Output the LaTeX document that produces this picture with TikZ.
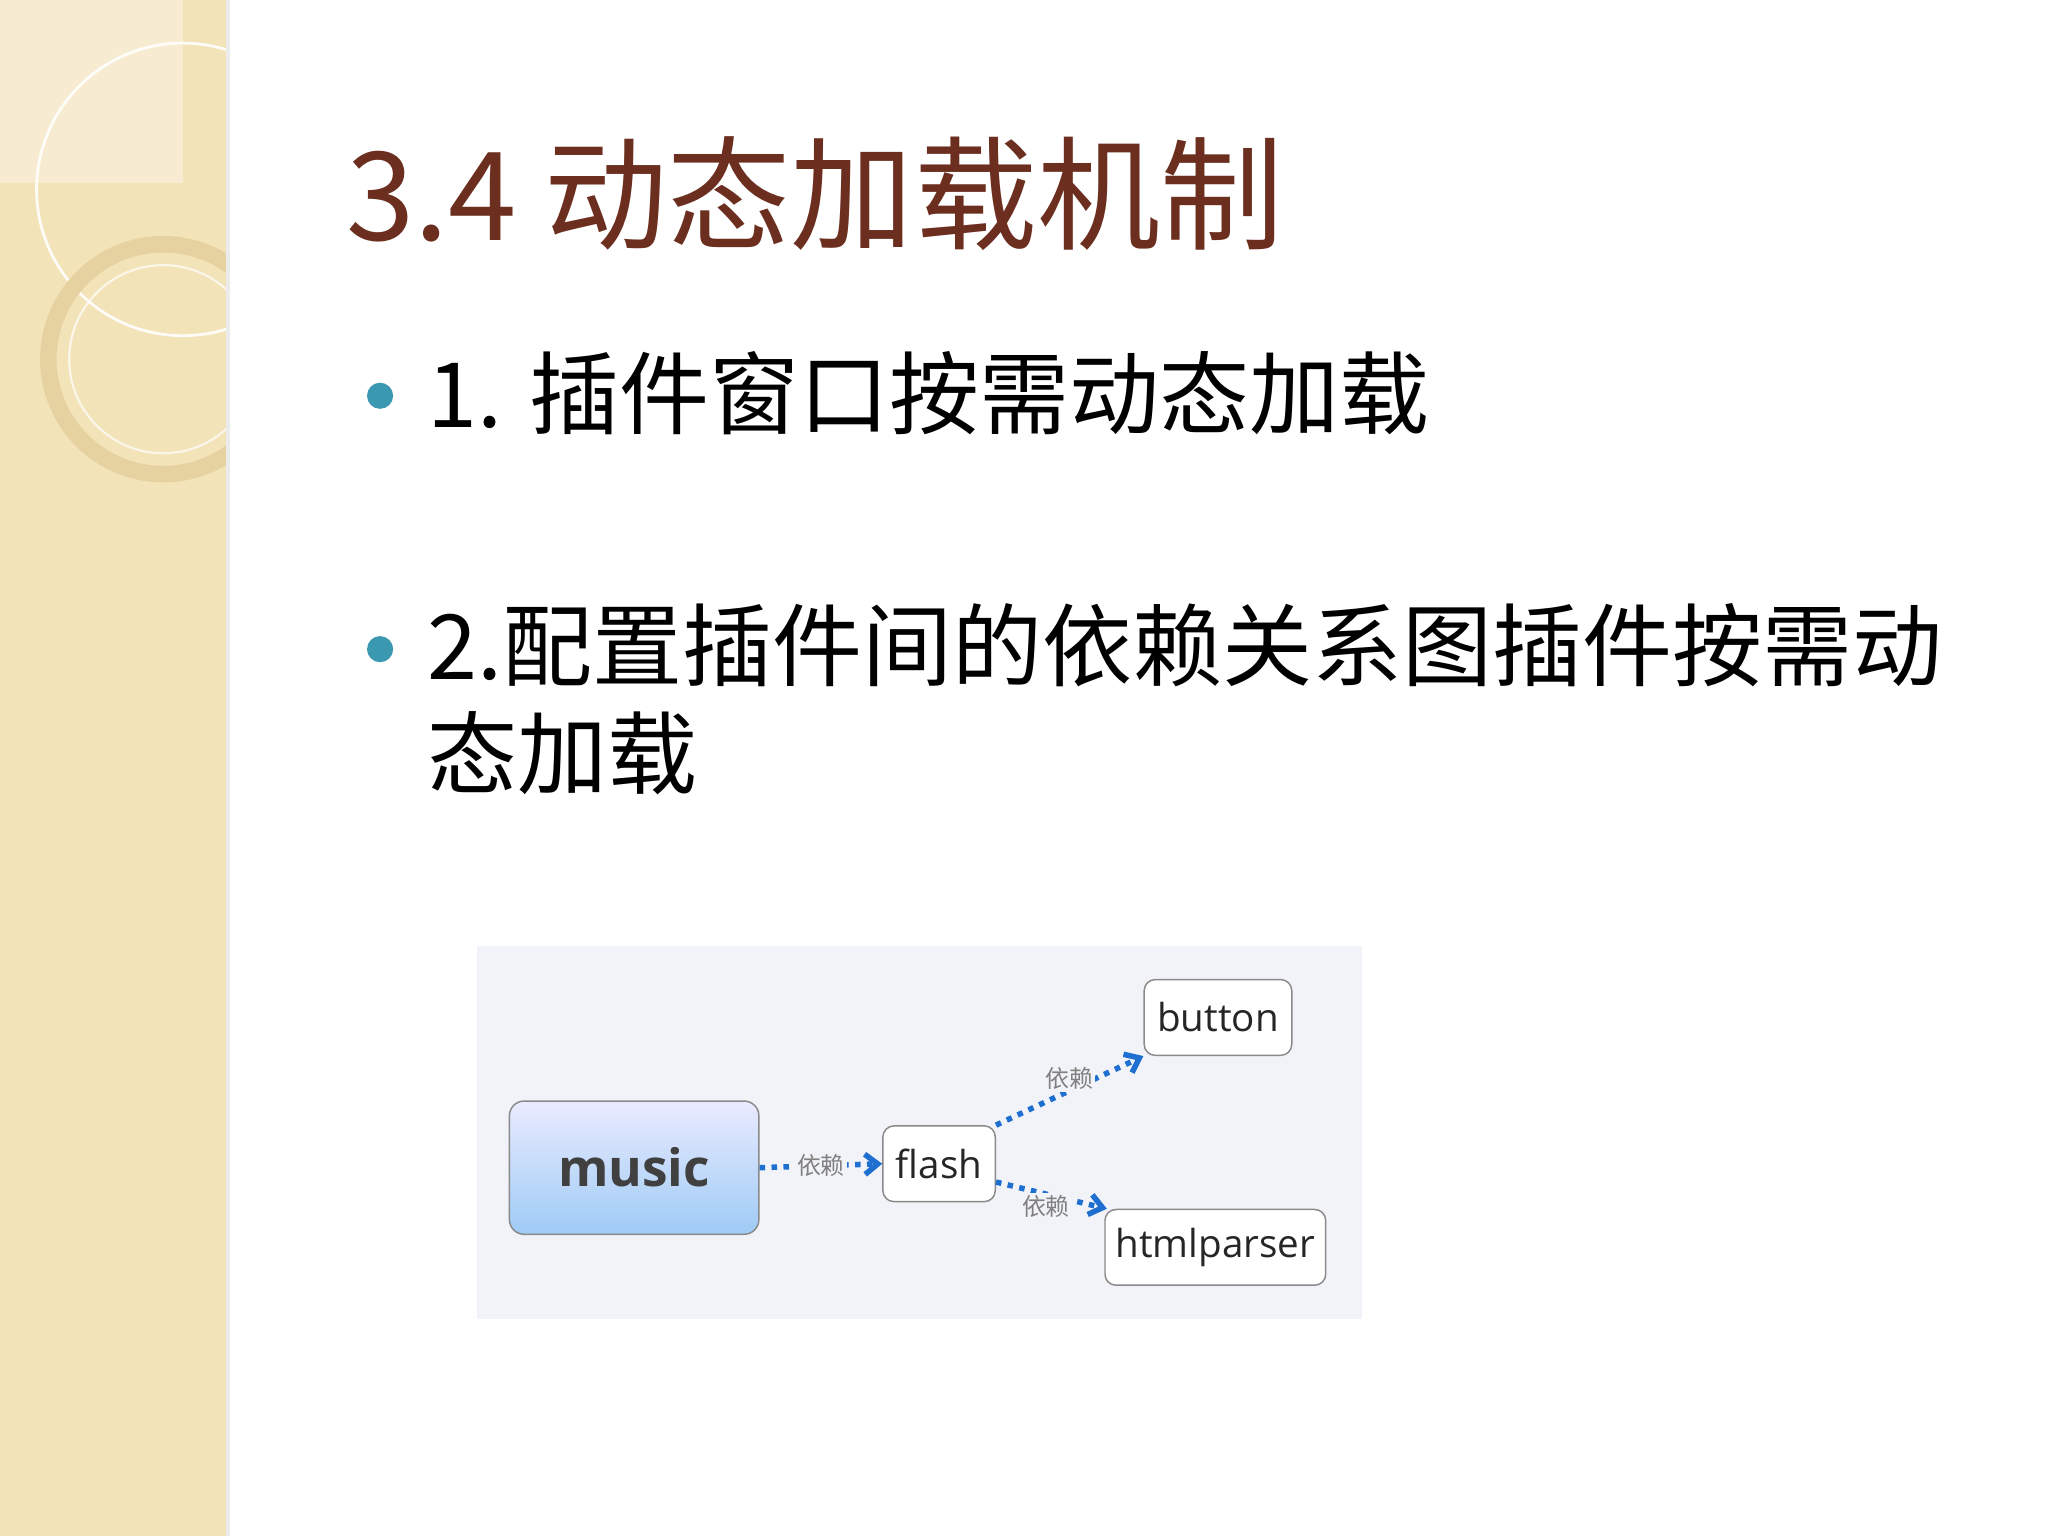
\documentclass[tikz,border=0pt]{standalone}
\usepackage{fontspec}
\setmainfont{Open Sans}
\newfontfamily\cjk{Noto Sans CJK SC}
\usetikzlibrary{arrows.meta,shadings}
\definecolor{beige}{HTML}{F3E3B9}
\definecolor{ringc}{HTML}{E6D2A0}
\definecolor{titlec}{HTML}{6B2E1F}
\definecolor{teal}{HTML}{3A98B0}
\definecolor{diagbg}{HTML}{F1F3F8}
\definecolor{edgec}{HTML}{1E6FD0}
\definecolor{boxline}{HTML}{8A8A8A}
\tikzset{
  px/.style={x=0.025cm,y=-0.025cm},
  plug/.style={draw=boxline,fill=white,rounded corners=6pt,line width=0.8pt,inner sep=0pt,font=\fontsize{21}{24}\selectfont,text=black!85},
  dep/.style={draw=edgec,line width=3pt,dash pattern=on 3pt off 3.5pt,-{Straight Barb[length=7pt,width=11pt,line width=3pt]}},
  deplab/.style={font=\cjk\fontsize{13}{15}\selectfont,text=gray,fill=diagbg,inner sep=1pt},
}
\begin{document}
\begin{tikzpicture}[px]
\useasboundingbox (0,0) rectangle (1568,1176);
\fill[white] (0,0) rectangle (1568,1176);
% left strip
\fill[beige] (0,0) rectangle (173,1176);
\fill[white,opacity=0.35] (0,0) rectangle (140,140);
\begin{scope}
\clip (0,0) rectangle (173,1176);
\draw[white,line width=1.5pt,opacity=0.9] (140,145) circle (112);
\draw[ringc,line width=9pt] (125,275) circle (88);
\draw[white,line width=1.2pt,opacity=0.7] (125,275) circle (72);
\end{scope}
\fill[black!8] (173,0) rectangle (176,1176);
% title
\node[anchor=base west,inner sep=0,text=titlec,font=\cjk\fontsize{67}{72}\selectfont] (title) at (265,184) {3.4 动态加载机制};
% bullets
\fill[teal] (291,303) circle (10);
\node[anchor=base west,inner sep=0,font=\cjk\fontsize{49}{56}\selectfont] (b1) at (327,327) {1. 插件窗口按需动态加载};
\fill[teal] (291,497) circle (10);
\node[anchor=base west,inner sep=0,font=\cjk\fontsize{49}{56}\selectfont] (b2) at (327,520) {2.配置插件间的依赖关系图插件按需动};
\node[anchor=base west,inner sep=0,font=\cjk\fontsize{49}{56}\selectfont] (b3) at (327,603) {态加载};
% diagram
\fill[diagbg] (365,724) rectangle (1043,1010);
\node[draw=boxline,line width=0.8pt,rounded corners=8pt,top color=blue!8!white,bottom color={rgb,255:red,158;green,203;blue,245},minimum width=191*0.025cm,minimum height=102*0.025cm,font=\bfseries\fontsize{28}{30}\selectfont,text=black!75] (music) at (485.5,894) {music};
\node[plug,minimum width=86*0.025cm,minimum height=58*0.025cm] (flash) at (719,891) {flash};
\node[plug,minimum width=113*0.025cm,minimum height=58*0.025cm] (button) at (932.5,779) {button};
\node[plug,minimum width=169*0.025cm,minimum height=58*0.025cm] (html) at (930.5,955) {htmlparser};
\draw[dep] (music.east) -- node[deplab]{依赖} (flash.west);
\draw[dep] (flash.north east) -- node[deplab,pos=0.5,above=-2pt]{依赖} (button.south west);
\draw[dep] ([yshift=-0.35cm]flash.east) -- node[deplab,pos=0.45,below=-2pt]{依赖} ([xshift=0.05cm]html.north west);
\end{tikzpicture}
\end{document}
